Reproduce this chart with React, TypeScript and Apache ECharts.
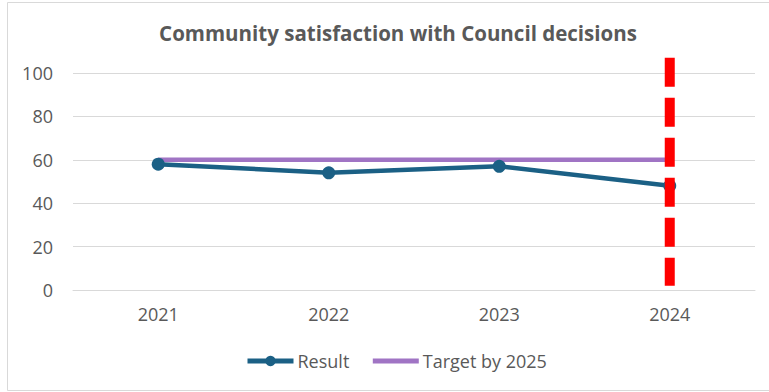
import React, { useEffect, useRef } from "react";
import * as echarts from "echarts";

const categories = ["2021", "2022", "2023", "2024"];
const resultValues = [58, 54, 57, 48];
const targetValues = [60, 60, 60, 60];
const markerYear = "2024";
const markerRange = [107, 2];

export default function App() {
  const ref = useRef<HTMLDivElement>(null);
  useEffect(() => {
    if (!ref.current) return;
    const chart = echarts.init(ref.current, undefined, { renderer: "svg" });
    const font = "'Open Sans', sans-serif";
    const textColor = "#595959";
    const blue = "#1B6085";
    const purple = "#A074C4";
    chart.setOption({
      animation: false,
      textStyle: { fontFamily: font },
      graphic: [
        {
          type: "rect",
          shape: { x: 7.5, y: 2.5, width: 780, height: 388 },
          style: { fill: "none", stroke: "#D9D9D9", lineWidth: 1 },
          silent: true,
        },
      ],
      title: {
        text: "Community satisfaction with Council decisions",
        left: 393,
        textAlign: "center",
        top: 17,
        textStyle: { fontFamily: font, fontSize: 20.5, fontWeight: "bold", color: textColor },
      },
      legend: {
        data: [
          { name: "Result", lineStyle: { width: 5 } },
          { name: "Target by 2025", itemStyle: { opacity: 0 }, lineStyle: { width: 5 } },
        ],
        bottom: 22,
        left: 245,
        padding: 0,
        itemWidth: 46,
        itemHeight: 13,
        itemGap: 21,
        textStyle: { fontFamily: font, fontSize: 18, color: textColor, padding: [0, 0, 0, -1] },
      },
      grid: { left: 73, right: 14, top: 73, bottom: 102, containLabel: false },
      xAxis: {
        type: "category",
        data: categories,
        boundaryGap: true,
        axisLine: { lineStyle: { color: "#D9D9D9", width: 1 } },
        axisTick: { show: false },
        axisLabel: { color: textColor, fontSize: 18, fontFamily: font, margin: 15 },
      },
      yAxis: {
        type: "value",
        min: 0,
        max: 100,
        interval: 20,
        axisLine: { show: false },
        axisTick: { show: false },
        splitLine: { lineStyle: { color: "#D9D9D9", width: 1 } },
        axisLabel: { color: textColor, fontSize: 18, fontFamily: font, margin: 20 },
      },
      series: [
        {
          name: "Target by 2025",
          type: "line",
          data: targetValues,
          symbol: "none",
          lineStyle: { color: purple, width: 4.5 },
          itemStyle: { color: purple },
          z: 2,
        },
        {
          name: "Result",
          type: "line",
          data: resultValues,
          symbol: "circle",
          symbolSize: 13,
          lineStyle: { color: blue, width: 4.5 },
          itemStyle: { color: blue },
          z: 3,
        },
        {
          name: "marker",
          type: "line",
          data: markerRange.map((v) => [markerYear, v]),
          symbol: "none",
          clip: false,
          lineStyle: { color: "#FF0000", width: 10, type: [29, 11], cap: "butt" },
          z: 5,
        },
      ],
    });
    return () => chart.dispose();
  }, []);
  return (
    <div
      ref={ref}
      style={{ position: "absolute", left: 0, top: 0, width: 769, height: 392, background: "#fff" }}
    />
  );
}
